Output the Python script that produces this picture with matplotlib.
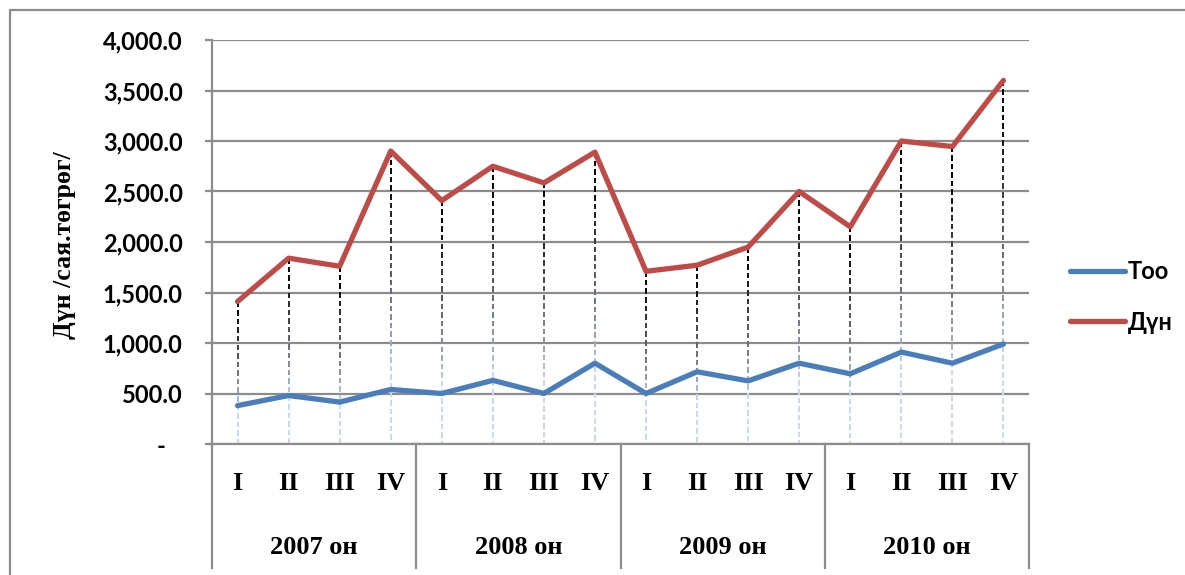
import numpy as np
import matplotlib
matplotlib.use("Agg")
import matplotlib.pyplot as plt
import matplotlib.transforms as mtransforms
from matplotlib.collections import LineCollection
from matplotlib.colors import to_rgb
from matplotlib.ticker import FuncFormatter, MultipleLocator

# ---- data ----
years = ["2007 он", "2008 он", "2009 он", "2010 он"]
quarters = ["I", "II", "III", "IV"]
too = [380, 480, 415, 540, 500, 630, 500, 800,
       500, 715, 625, 800, 695, 910, 800, 990]
dun = [1410, 1840, 1760, 2900, 2410, 2750, 2585, 2890,
       1710, 1770, 1950, 2500, 2150, 3000, 2945, 3600]

BLUE = "#4a7ebb"
RED = "#be4b48"
GRID = "#8c8c8c"
SERIF = "Liberation Serif"
SANS = "Lato"

W, H = 1185, 575
fig = plt.figure(figsize=(W / 100, H / 100), dpi=100)
ax = fig.add_axes([212 / W, 1 - 444 / H, (1029 - 212) / W, (444 - 40) / H])

x = np.arange(len(too))

# outer frame (only top and left edges visible in the picture)
fig.add_artist(plt.Line2D([10 / W, 10 / W, 1.0], [0.0, 1 - 10 / H, 1 - 10 / H],
                          transform=fig.transFigure, color=GRID, lw=1.6))

# drop lines: dashed, fading from black at the top to light blue at the base
dark = np.array(to_rgb("#000000"))
light = np.array(to_rgb("#c9d8f0"))
dash, gap = 55, 30
segs, cols = [], []
for xi, top in zip(x, dun):
    y0 = top
    while y0 > 0:
        y1 = max(y0 - dash, 0)
        t = ((y0 + y1) / 2) / top
        f = np.clip((t - 0.25) / 0.65, 0, 1) ** 0.8
        segs.append([(xi, y0), (xi, y1)])
        cols.append(light * (1 - f) + dark * f)
        y0 = y1 - gap
ax.add_collection(LineCollection(segs, colors=cols, linewidths=1.4, zorder=1))

ax.plot(x, too, color=BLUE, lw=3.8, solid_capstyle="round", zorder=3, label="Тоо")
ax.plot(x, dun, color=RED, lw=3.8, solid_capstyle="round", zorder=3, label="Дүн")

ax.set_xlim(-0.5, len(too) - 0.5)
ax.set_ylim(0, 4000)
ax.yaxis.set_major_locator(MultipleLocator(500))
ax.yaxis.set_major_formatter(FuncFormatter(lambda v, p: "-   " if v == 0 else f"{v:,.1f}"))
ax.grid(axis="y", color=GRID, lw=1.6, zorder=0)
ax.set_axisbelow(True)
for s in ["top", "right"]:
    ax.spines[s].set_visible(False)
for s in ["left", "bottom"]:
    ax.spines[s].set_color(GRID)
    ax.spines[s].set_linewidth(1.6)
ax.tick_params(axis="y", length=5, width=1.6, color=GRID, pad=16)
ax.tick_params(axis="x", length=0, labelbottom=False)
for lab in ax.get_yticklabels():
    lab.set_fontfamily(SANS)
    lab.set_fontweight("bold")
    lab.set_fontsize(17)

# two-level category axis
tr = mtransforms.blended_transform_factory(ax.transData, fig.transFigure)
for i, xi in enumerate(x):
    ax.text(xi, 1 - 484 / H, quarters[i % 4], transform=tr, ha="center", va="center",
            fontfamily=SERIF, fontweight="bold", fontsize=19)
for g, name in enumerate(years):
    ax.text(g * 4 + 1.5, 1 - 548 / H, name, transform=tr, ha="center", va="center",
            fontfamily=SERIF, fontweight="bold", fontsize=19)
for g in range(len(years) + 1):
    ax.plot([g * 4 - 0.5] * 2, [1 - 444 / H, 1 - 568 / H], transform=tr,
            color=GRID, lw=1.6, clip_on=False)

fig.text(65 / W, 1 - 245 / H, "Дүн /сая.төгрөг/", rotation=90, ha="center", va="center",
         fontfamily=SERIF, fontweight="bold", fontsize=18.5)

leg = fig.legend(loc="center left", bbox_to_anchor=(1049 / W, 1 - 297 / H), frameon=False,
                 handlelength=2.3, handletextpad=0.15, labelspacing=1.15,
                 prop={"family": SANS, "weight": "bold", "size": 17})

fig.savefig("out.png", dpi=100)
